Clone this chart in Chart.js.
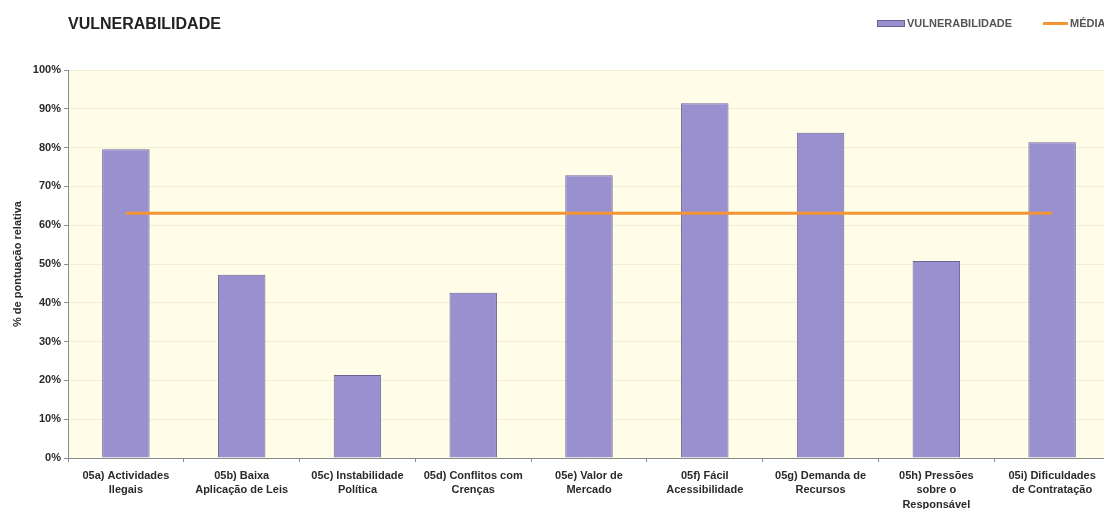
<!DOCTYPE html>
<html>
<head>
<meta charset="utf-8">
<script src="https://cdn.jsdelivr.net/npm/chart.js@4.4.0/dist/chart.umd.min.js"></script>
<style>
html, body { margin: 0; padding: 0; background: #fff; overflow: hidden; }
</style>
</head>
<body>
<canvas id="chart1" width="1112" height="509"></canvas>
<script>
var chartTitle = "VULNERABILIDADE";
var categories = [
  ["05a) Actividades", "Ilegais"],
  ["05b) Baixa", "Aplicação de Leis"],
  ["05c) Instabilidade", "Política"],
  ["05d) Conflitos com", "Crenças"],
  ["05e) Valor de", "Mercado"],
  ["05f) Fácil", "Acessibilidade"],
  ["05g) Demanda de", "Recursos"],
  ["05h) Pressões", "sobre o", "Responsável"],
  ["05i) Dificuldades", "de Contratação"]
];
var vulnerabilidade = [79.6, 47.2, 21.4, 42.6, 72.9, 91.4, 83.8, 50.8, 81.4];
var media = [63.1, 63.1, 63.1, 63.1, 63.1, 63.1, 63.1, 63.1, 63.1];
var yTickLabels = ["0%", "10%", "20%", "30%", "40%", "50%", "60%", "70%", "80%", "90%", "100%"];

var barColor = "#9a90d0";
var lineColor = "#f39532";

// cream plot background + top border
var plotBg = {
  id: "plotBg",
  beforeDraw: function(chart) {
    var ctx = chart.ctx, a = chart.chartArea;
    ctx.save();
    ctx.fillStyle = "#fffde8";
    ctx.fillRect(a.left, a.top, a.right - a.left, a.bottom - a.top);
    ctx.strokeStyle = "#c4c4bc";
    ctx.lineWidth = 1;
    ctx.beginPath();
    ctx.moveTo(a.left, a.top + 0.5);
    ctx.lineTo(a.right, a.top + 0.5);
    ctx.stroke();
    ctx.restore();
  }
};

// title on the left, legend on the right
var header = {
  id: "header",
  afterDraw: function(chart) {
    var ctx = chart.ctx;
    var ds = chart.data.datasets;
    ctx.save();
    ctx.fillStyle = "#222";
    ctx.font = "bold 16px Arial";
    ctx.textBaseline = "middle";
    ctx.fillText(chartTitle, 68, 25);

    ctx.font = "bold 11px Arial";
    ctx.fillStyle = ds[0].backgroundColor;
    ctx.fillRect(877, 20, 28, 7);
    ctx.strokeStyle = ds[0].borderColor;
    ctx.lineWidth = 1;
    ctx.strokeRect(877.5, 20.5, 27, 6);
    ctx.fillStyle = "#555";
    ctx.fillText(ds[0].label, 907, 24);

    ctx.strokeStyle = ds[1].borderColor;
    ctx.lineWidth = 3;
    ctx.beginPath();
    ctx.moveTo(1043, 23.5);
    ctx.lineTo(1068, 23.5);
    ctx.stroke();
    ctx.fillStyle = "#555";
    ctx.fillText(ds[1].label, 1070, 24);
    ctx.restore();
  }
};

var ctx = document.getElementById("chart1").getContext("2d");
new Chart(ctx, {
  data: {
    labels: categories,
    datasets: [
      {
        type: "bar",
        label: "VULNERABILIDADE",
        data: vulnerabilidade,
        backgroundColor: barColor,
        borderColor: "#6a6398",
        borderWidth: 1,
        barPercentage: 0.41,
        categoryPercentage: 1,
        order: 1
      },
      {
        type: "line",
        label: "MÉDIA",
        data: media,
        borderColor: lineColor,
        borderWidth: 3,
        pointRadius: 0,
        fill: false,
        order: 0
      }
    ]
  },
  options: {
    responsive: false,
    animation: false,
    layout: { padding: { top: 70, left: 11, right: 2, bottom: 0 } },
    plugins: {
      legend: { display: false },
      title: { display: false },
      tooltip: { enabled: false }
    },
    scales: {
      x: {
        offset: true,
        grid: { offset: true, drawOnChartArea: false, tickLength: 4, color: "#8a8a8a" },
        border: { color: "#8a8a8a" },
        ticks: {
          autoSkip: false, maxRotation: 0, padding: 6,
          color: "#2a2a2a",
          font: { family: "Arial", size: 11, weight: "bold", lineHeight: 1.36 }
        },
        afterFit: function(s) { s.height = 51; }
      },
      y: {
        min: 0,
        max: 100,
        ticks: {
          stepSize: 10, padding: 3,
          color: "#2a2a2a",
          font: { family: "Arial", size: 11, weight: "bold" },
          callback: function(v) { return yTickLabels[Math.round(v / 10)]; }
        },
        grid: { color: "#f2eed6", tickColor: "#8a8a8a", tickLength: 4 },
        border: { color: "#8a8a8a" },
        title: {
          display: true,
          text: "% de pontuação relativa",
          color: "#2a2a2a",
          font: { family: "Arial", size: 11, weight: "bold" },
          padding: { top: 0, bottom: 0 }
        },
        afterFit: function(s) { s.width = 57; }
      }
    }
  },
  plugins: [plotBg, header]
});
</script>
</body>
</html>
